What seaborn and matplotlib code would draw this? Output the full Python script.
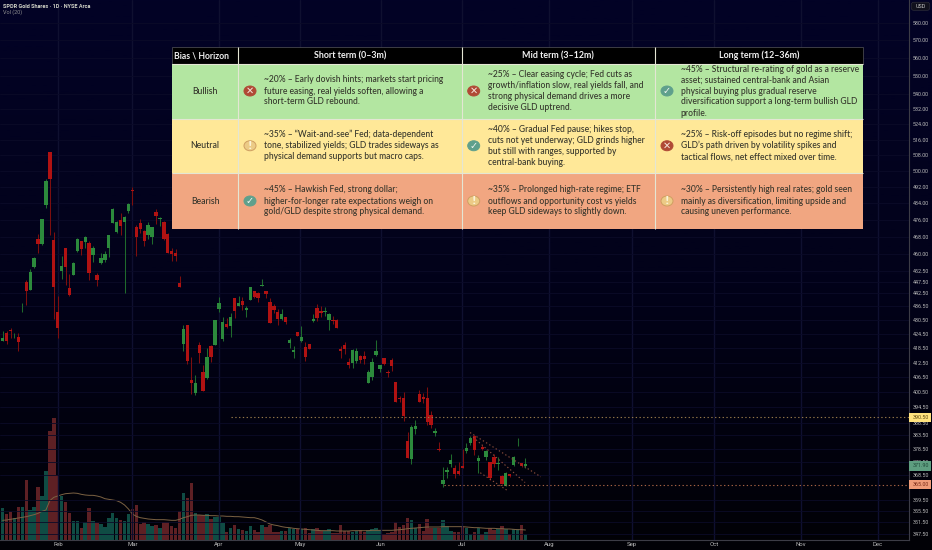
import numpy as np
import pandas as pd
import matplotlib
matplotlib.use("Agg")
import matplotlib.pyplot as plt
from matplotlib.colors import LinearSegmentedColormap
from matplotlib.patches import Ellipse, Rectangle, FancyBboxPatch
from matplotlib.ticker import FixedLocator, NullLocator, FixedFormatter
import seaborn as sns

# ---------- price data (GLD daily) ----------
opens = [421.8,424.9,426.3,423.1,423.1,436.9,447.1,443.8,453.9,467.0,464.6,483.3,509.5,466.6,434.2,452.5,462.7,444.6,450.5,461.5,
         466.2,465.7,465.1,459.6,450.5,455.8,457.4,463.0,474.5,470.1,475.8,475.0,480.4,490.7,472.9,474.8,470.6,469.0,468.2,479.9,
         476.4,475.2,469.5,461.5,460.7,446.8,420.4,428.3,405.5,400.1,420.0,408.8,406.2,419.7,420.1,435.3,422.4,428.9,427.8,440.3,
         436.5,438.8,435.0,439.4,443.1,442.3,445.7,443.2,438.6,436.5,434.1,431.0,431.7,420.8,416.9,425.5,421.4,419.0,420.4,430.0,
         435.9,434.4,433.9,430.6,430.6,430.6,418.1,420.0,413.0,412.2,413.2,415.4,415.4,404.4,406.6,415.8,409.9,414.4,408.8,413.7,
         404.7,398.0,398.0,381.3,374.6,386.1,399.9,398.5,398.2,391.6,384.4,378.3,365.3,369.7,372.6,371.3,369.9,372.0,377.6,380.5,
         383.3,373.7,379.1,375.4,373.5,375.2,372.5,368.2,364.7,368.8,372.2,379.4,373.0,371.9]
highs = [426.0,426.0,427.0,425.2,424.9,438.2,448.3,453.2,458.9,469.5,476.7,495.9,509.5,470.2,440.9,459.2,462.7,451.0,456.6,467.4,
         466.2,468.5,466.3,463.8,451.3,460.4,461.5,469.0,481.7,475.6,479.3,478.0,484.1,492.0,473.6,476.4,471.4,475.3,472.9,481.4,
         477.5,475.5,469.8,462.7,462.2,450.1,428.5,428.3,414.8,407.4,421.0,411.7,418.7,420.0,430.6,440.6,431.7,431.3,433.6,440.3,
         441.2,440.5,436.5,445.2,443.5,442.9,448.7,443.5,440.1,437.5,435.3,435.5,432.0,422.8,419.3,425.5,428.0,421.0,420.4,433.2,
         437.5,436.5,436.1,433.5,432.5,431.2,419.6,421.0,414.6,418.2,418.6,415.7,417.2,409.6,414.6,422.1,411.5,414.4,409.6,414.4,
         404.7,399.1,400.6,384.8,387.6,389.3,401.2,400.2,402.4,392.9,386.5,380.8,371.5,371.5,376.3,372.1,373.3,378.2,380.5,383.3,
         383.8,376.0,379.8,378.0,373.5,376.4,375.2,368.5,369.7,369.1,375.7,382.7,373.2,375.0]
lows = [421.8,420.4,422.8,422.8,417.2,434.2,437.2,443.8,453.6,460.4,464.1,481.7,469.0,431.0,422.8,448.6,446.0,440.9,450.5,461.2,
        459.6,462.7,448.3,456.6,445.6,455.5,456.6,458.6,474.5,469.8,469.0,442.3,479.3,483.3,459.2,469.8,464.0,467.1,464.8,474.0,
        473.3,466.6,460.4,457.0,457.0,444.9,417.2,411.9,399.8,399.4,412.6,400.8,405.8,413.0,419.8,433.9,421.5,427.0,423.2,431.3,
        436.5,435.0,431.7,439.4,440.1,438.6,445.7,440.3,429.2,433.8,428.5,430.6,428.9,418.6,414.4,423.6,421.1,413.4,418.3,429.9,
        430.3,431.7,432.5,426.2,428.9,427.2,414.3,416.2,410.2,410.4,412.4,412.4,411.8,404.1,405.5,415.4,408.5,411.7,406.5,409.3,
        396.5,396.5,389.1,375.0,372.5,384.0,396.5,396.2,387.7,386.5,383.3,377.6,364.2,367.6,371.6,367.6,368.7,371.1,376.8,379.8,
        376.0,369.4,377.9,374.3,366.6,371.6,370.3,365.2,364.4,367.9,372.0,379.4,371.5,371.3]
closes = [422.8,421.8,425.9,423.5,421.3,437.3,443.4,452.0,458.1,464.6,476.4,494.8,495.9,444.9,427.0,454.6,453.9,441.6,455.8,467.1,
          462.4,467.9,451.3,462.7,448.3,458.4,459.9,468.7,481.4,475.0,473.4,477.5,483.8,490.0,468.2,471.7,466.2,473.7,472.6,478.0,
          476.9,467.0,460.7,460.2,459.2,444.9,426.6,413.4,404.1,404.4,416.5,400.8,414.8,414.7,430.5,438.0,429.6,427.5,431.9,434.7,
          438.2,437.0,435.6,445.2,440.6,440.1,446.0,442.0,429.5,435.0,431.0,433.4,429.9,422.2,417.8,423.6,423.5,414.7,418.3,431.0,
          431.6,433.8,434.7,433.1,430.0,427.2,417.5,418.3,411.5,417.8,417.2,413.7,414.0,408.8,413.0,417.5,411.5,411.9,408.2,411.2,
          396.5,397.6,391.0,375.0,386.7,387.0,396.7,397.8,388.8,387.4,385.1,377.8,366.6,370.3,374.3,369.1,368.8,371.3,378.6,382.5,
          378.0,375.0,378.4,377.5,367.6,372.6,373.2,365.3,369.3,368.1,375.4,379.6,371.9,372.5]
volumes = [9.6,7.8,8.5,6.6,9.8,9.8,18.0,9.1,10.0,16.0,13.3,20.6,32.6,36.5,19.5,13.3,11.5,8.2,5.8,5.8,
           3.6,5.3,9.6,5.8,5.1,4.8,4.0,6.7,8.1,6.7,6.1,5.8,7.8,9.3,10.6,4.8,5.4,4.8,4.1,4.6,
           3.6,5.5,5.5,4.3,3.6,8.6,14.2,12.7,17.2,8.1,7.5,7.5,7.8,6.2,6.8,6.8,5.2,2.5,3.5,4.6,
           3.2,3.0,2.6,4.1,3.1,2.5,4.5,3.9,4.4,2.4,2.4,2.8,2.8,3.6,3.3,3.4,
           3.3,3.6,2.0,3.3,3.5,2.6,2.8,3.3,2.0,2.0,4.5,2.8,2.8,2.4,2.6,3.0,2.3,3.1,3.3,3.6,
           3.0,1.8,2.2,2.4,5.4,3.8,4.6,6.5,6.0,3.6,4.9,2.8,6.4,3.7,3.6,3.6,6.1,4.2,2.7,2.3,
           2.4,4.3,3.6,1.9,2.3,3.7,1.9,2.5,3.5,3.0,3.3,4.1,3.2,1.8,3.3,3.4,4.6,1.8]
vol_ma = [5.9,6.0,6.2,6.4,6.6,6.8,7.0,7.3,7.6,8.0,8.6,9.0,11.8,12.8,13.2,13.6,13.9,14.0,14.1,14.0,
          13.7,13.5,13.4,13.4,13.2,12.9,12.4,12.2,12.0,11.8,11.3,10.5,9.3,7.8,7.1,6.7,6.5,6.3,6.2,6.1,
          6.1,6.1,6.0,5.9,5.9,6.2,6.7,7.0,7.4,7.5,7.5,7.4,7.4,7.3,7.3,7.2,7.2,7.1,7.1,7.0,
          7.0,6.9,6.8,6.7,6.7,6.4,6.0,5.4,4.8,4.5,4.3,4.0,3.8,3.7,3.5,3.4,3.3,3.2,3.1,3.0,
          2.9,2.8,2.8,2.8,2.8,2.7,2.7,2.7,2.7,2.8,2.8,2.8,2.8,2.8,2.9,2.9,2.9,2.9,2.9,2.9,
          3.0,3.1,3.2,3.4,3.5,3.6,3.7,3.8,3.9,3.9,3.9,3.9,4.0,4.0,4.0,4.0,4.0,4.0,3.9,3.8,
          3.7,3.7,3.6,3.5,3.5,3.5,3.4,3.4,3.3,3.3,3.2,3.1,3.1,3.0]

month_labels = ["Feb","Mar","Apr","May","Jun","Jul","Aug","Sep","Oct","Nov","Dec"]
month_bars = [14.1,33.0,55.0,75.7,96.3,116.9,139.0,160.1,181.0,203.1,222.7]
price_ticks = [580,570,560,550,540,532,524,516,508,500,492,484,476,468,460,452.5,447.5,442.5,436.5,430.5,424.5,
               418.5,412.5,406.5,400.5,394.5,388.5,383.5,378.5,373.5,368.5,359.5,355.5,351.5,347.5]

resistance = 390.5
support = 365.0
last_price = 371.9
trend_bars = [(118.9,136.9),(119.7,132.9),(121.5,128.7)]
trend_prices = [(384.6,367.9),(382.8,365.8),(369.4,362.6)]

# ---------- table content ----------
table_title = "Bias \\ Horizon"
horizons = ["Short term (0–3m)","Mid term (3–12m)","Long term (12–36m)"]
biases = ["Bullish","Neutral","Bearish"]
cell_lines = [
 [["~20% – Early dovish hints; markets start pricing","future easing, real yields soften, allowing a","short-term GLD rebound."],
  ["~25% – Clear easing cycle; Fed cuts as","growth/inflation slow, real yields fall, and","strong physical demand drives a more","decisive GLD uptrend."],
  ["~45% – Structural re-rating of gold as a reserve","asset; sustained central-bank and Asian","physical buying plus gradual reserve","diversification support a long-term bullish GLD","profile."]],
 [["~35% – “Wait-and-see” Fed; data-dependent","tone, stabilized yields; GLD trades sideways as","physical demand supports but macro caps."],
  ["~40% – Gradual Fed pause; hikes stop,","cuts not yet underway; GLD grinds higher","but still with ranges, supported by","central-bank buying."],
  ["~25% – Risk-off episodes but no regime shift;","GLD’s path driven by volatility spikes and","tactical flows, net effect mixed over time."]],
 [["~45% – Hawkish Fed, strong dollar;","higher-for-longer rate expectations weigh on","gold/GLD despite strong physical demand."],
  ["~35% – Prolonged high-rate regime; ETF","outflows and opportunity cost vs yields","keep GLD sideways to slightly down."],
  ["~30% – Persistently high real rates; gold seen","mainly as diversification, limiting upside and","causing uneven performance."]],
]
cell_icons = [["x","x","ok"],["warn","ok","x"],["ok","warn","warn"]]

# ---------- style ----------
UP, DOWN = "#2c8a3c", "#b01212"
UP_W, DOWN_W = "#1f6a2c", "#7d0e0e"
VOL_UP, VOL_DOWN = "#0f4c44", "#5e2024"
GRID_X = "#0f1030"
GRID_Y = "#0b0b28"
LABEL = "#b9b9b9"
W, H = 932, 550
PL_R, PL_B = 908.7, 540.0

sns.set_theme(style="dark")
plt.rcParams["font.family"] = ["Roboto", "DejaVu Sans"]
fig = plt.figure(figsize=(W / 100, H / 100), dpi=100)

bg = fig.add_axes([0, 0, 1, 1], zorder=0)
bg.imshow(np.linspace(0, 1, 256)[:, None], aspect="auto",
          cmap=LinearSegmentedColormap.from_list("bgfade", ["#020226", "#02021a", "#010106"]))
bg.axis("off")

rect = [0, 1 - PL_B / H, PL_R / W, PL_B / H]
axv = fig.add_axes(rect, zorder=1)
ax = fig.add_axes(rect, zorder=2)
for a in (axv, ax):
    a.patch.set_alpha(0)

df = pd.DataFrame({"bar": np.arange(len(opens)), "open": opens, "high": highs, "low": lows,
                   "close": closes, "volume": volumes, "ma": vol_ma})
df["side"] = np.where(df["close"] >= df["open"], "up", "down")

# volume pane
sns.barplot(data=df, x="bar", y="volume", hue="side", palette={"up": VOL_UP, "down": VOL_DOWN},
            native_scale=True, dodge=False, width=0.88, saturation=1, linewidth=0, ax=axv, legend=False)
sns.lineplot(data=df, x="bar", y="ma", color="#7c6243", lw=0.7, ax=axv, legend=False, errorbar=None)
axv.set_xlim(-0.68, 230.5)
axv.set_ylim(0, 162)
axv.axis("off")

# candles
ax.set_yscale("log")
up = df[df.side == "up"]
dn = df[df.side == "down"]
ax.vlines(up.bar, up.low, up.high, color=UP_W, lw=0.75, zorder=3)
ax.vlines(dn.bar, dn.low, dn.high, color=DOWN_W, lw=0.75, zorder=3)
ax.bar(up.bar, up.close - up.open, bottom=up.open, width=0.85, color=UP, lw=0, zorder=4)
ax.bar(dn.bar, dn.open - dn.close, bottom=dn.close, width=0.85, color=DOWN, lw=0, zorder=4)

# levels and trend lines
dot = (0, (1.2, 2.2))
ax.hlines(resistance, 58, 230.5, color="#96794a", lw=0.8, linestyles=[dot], zorder=5)
ax.hlines(support, 112.3, 230.5, color="#a56244", lw=0.8, linestyles=[dot], zorder=5)
for tx, ty in zip(trend_bars, trend_prices):
    ax.plot(tx, ty, color="#8e4f3c", lw=0.8, ls=dot, zorder=5)

ax.set_xlim(-0.68, 230.5)
ax.set_ylim(345.3, 593.6)
ax.yaxis.tick_right()
ax.yaxis.set_major_locator(FixedLocator(price_ticks))
ax.yaxis.set_major_formatter(FixedFormatter([f"{p:.2f}" for p in price_ticks]))
ax.yaxis.set_minor_locator(NullLocator())
ax.xaxis.set_major_locator(FixedLocator(month_bars))
ax.xaxis.set_major_formatter(FixedFormatter(month_labels))
ax.xaxis.set_minor_locator(NullLocator())
ax.tick_params(axis="y", length=0, pad=2.9, labelsize=3.9, labelcolor=LABEL)
ax.tick_params(axis="x", length=0, pad=1.6, labelsize=4.3, labelcolor=LABEL)
ax.grid(True, axis="x", color=GRID_X, lw=1.0, zorder=0)
ax.grid(True, axis="y", color=GRID_Y, lw=0.6, zorder=0)
ax.set_axisbelow(True)
for s in ("left", "top"):
    ax.spines[s].set_visible(False)
for s in ("right", "bottom"):
    ax.spines[s].set_color("#3c3c46")
    ax.spines[s].set_linewidth(0.8)

# ---------- overlay in pixel space: header text, price tags, table ----------
ov = fig.add_axes([0, 0, 1, 1], zorder=3)
ov.set_xlim(0, W)
ov.set_ylim(H, 0)
ov.axis("off")

ov.text(3, 6.5, "SPDR Gold Shares · 1D · NYSE Arca", color="#d2d4c8", fontsize=3.95, weight="bold", va="center")
ov.text(3, 12.5, "Vol (20)", color="#8f8f8f", fontsize=3.95, va="center")
ov.add_patch(FancyBboxPatch((912, 3), 17, 6.5, boxstyle="round,pad=0.8,rounding_size=2.5", fc="#10101c", ec="#33333d", lw=0.4))
ov.text(920.5, 6.4, "USD", color="#c8c8c8", fontsize=3.9, ha="center", va="center")

tags = [("390.50", 417.4, "#ffe27e", "#5f4a10"), ("371.90", 465.7, "#5e9e80", "#214a3a"), ("365.00", 484.3, "#ef9c78", "#7a2c18")]
for txt, y, fc, tc in tags:
    ov.add_patch(Rectangle((909.2, y - 4.8), 21.8, 9.6, fc=fc, ec="none", zorder=5))
    ov.text(920.5, y, txt, color=tc, fontsize=3.9, ha="center", va="center", zorder=6)

col_x = [171.5, 238.0, 461.7, 655.0, 862.7]
row_y = [63.5, 118.5, 173.0, 229.0]
table_top = 47.0
row_fill = ["#b3e6a1", "#ffe898", "#f1a681"]
sep = "#e4e6d4"
ink = "#33332a"
ov.add_patch(Rectangle((col_x[0], table_top), col_x[-1] - col_x[0], row_y[0] - table_top, fc="#000000", ec="#55555a", lw=0.5))
for r, fill in enumerate(row_fill):
    ov.add_patch(Rectangle((col_x[0], row_y[r]), col_x[-1] - col_x[0], row_y[r + 1] - row_y[r], fc=fill, ec="none"))
for x in col_x[1:-1]:
    ov.plot([x, x], [table_top, row_y[-1]], color=sep, lw=0.8, solid_capstyle="butt")
for y in row_y[:-1]:
    ov.plot([col_x[0], col_x[-1]], [y, y], color=sep, lw=0.8, solid_capstyle="butt")

ov.text(202, 55.7, table_title, color="#f0f0f0", fontsize=6.2, family="Lato", weight="bold", ha="center", va="center")
for c, head in enumerate(horizons):
    ov.text((col_x[c + 1] + col_x[c + 2]) / 2, 55.7, head, color="#f0f0f0", fontsize=6.4, family="Lato", weight="bold",
            ha="center", va="center")

icon_style = {"x": ("#b04a35", "#b04a35", "✕", "#f6e6de"),
              "ok": ("#5fa08c", "#5fa08c", "✓", "#f2f7f2"),
              "warn": ("#eccb86", "#cf9f62", "!", "#fbf3d8")}
icon_x = [250.0, 473.7, 667.0]
text_x = [263.7, 487.7, 680.7]
line_gap = 11.0
for r, bias in enumerate(biases):
    cy = (row_y[r] + row_y[r + 1]) / 2
    ov.text(205, cy, bias, color=ink, fontsize=6.2, family="Lato", weight="medium", ha="center", va="center")
    for c in range(3):
        lines = cell_lines[r][c]
        for i, line in enumerate(lines):
            ov.text(text_x[c], cy + (i - (len(lines) - 1) / 2) * line_gap, line, color=ink, fontsize=6.15,
                    family="Lato", weight="medium", ha="left", va="center")
        fc, ec, glyph, gc = icon_style[cell_icons[r][c]]
        ov.add_patch(Ellipse((icon_x[c], cy), 12, 10, fc=fc, ec=ec, lw=0.7))
        ov.text(icon_x[c], cy, glyph, color=gc, fontsize=7, family="DejaVu Sans", weight="bold", ha="center", va="center")

fig.savefig("out.png", dpi=100)
